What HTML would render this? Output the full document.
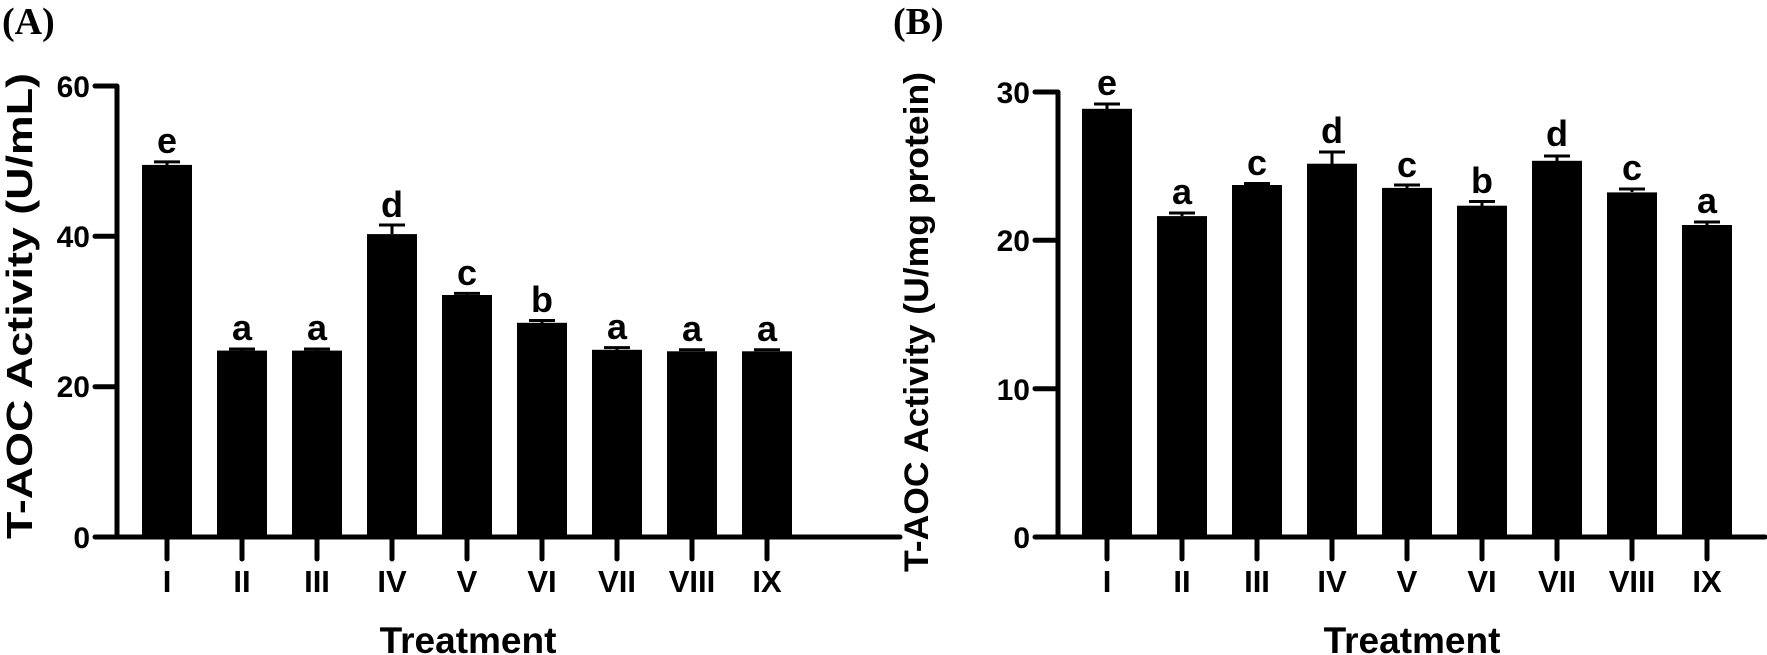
<!DOCTYPE html>
<html><head><meta charset="utf-8"><style>html,body{margin:0;padding:0;background:#fff}svg{display:block}</style></head>
<body>
<svg width="1767" height="655" viewBox="0 0 1767 655" xmlns="http://www.w3.org/2000/svg" font-family="Liberation Sans, Arial, sans-serif" font-weight="bold">
<rect width="1767" height="655" fill="#fff"/>
<text x="2" y="34" font-family="Liberation Serif, serif" font-size="38" font-weight="bold">(A)</text>
<text x="893" y="34" font-family="Liberation Serif, serif" font-size="38" font-weight="bold">(B)</text>

<!-- Panel A -->
<g stroke="#000" stroke-width="5" stroke-linecap="round" fill="none">
<path d="M117 86 V537 M95 86 H117 M95 236.3 H117 M95 386.7 H117 M95 537 H900"/>
<path d="M167 537 V559 M242 537 V559 M317 537 V559 M392 537 V559 M467 537 V559 M542 537 V559 M617 537 V559 M692 537 V559 M767 537 V559"/>
</g>
<g font-size="30" text-anchor="end">
<text x="90" y="97">60</text><text x="90" y="247">40</text><text x="90" y="397">20</text><text x="90" y="548">0</text>
</g>
<g fill="#000">
<rect x="142" y="164.9" width="50" height="372.1"/>
<rect x="217" y="350.6" width="50" height="186.4"/>
<rect x="292" y="350.6" width="50" height="186.4"/>
<rect x="367" y="234.1" width="50" height="302.9"/>
<rect x="442" y="295" width="50" height="242"/>
<rect x="517" y="322.8" width="50" height="214.2"/>
<rect x="592" y="349.8" width="50" height="187.2"/>
<rect x="667" y="351.3" width="50" height="185.7"/>
<rect x="742" y="351.3" width="50" height="185.7"/>
</g>
<g stroke="#000" stroke-width="3" fill="none">
<path d="M167 165 V161.9 M154 161.9 H180"/>
<path d="M242 351 V349 M229 349 H255"/>
<path d="M317 351 V349 M304 349 H330"/>
<path d="M392 234 V225 M379 225 H405"/>
<path d="M467 295 V293.4 M454 293.4 H480"/>
<path d="M542 323 V320.5 M529 320.5 H555"/>
<path d="M617 350 V347.6 M604 347.6 H630"/>
<path d="M692 351 V349.8 M679 349.8 H705"/>
<path d="M767 351 V349.8 M754 349.8 H780"/>
</g>
<g font-size="36" text-anchor="middle">
<text x="167" y="153">e</text><text x="242" y="340">a</text><text x="317" y="340">a</text>
<text x="392" y="217">d</text><text x="467" y="285">c</text><text x="542" y="312">b</text>
<text x="617" y="339">a</text><text x="692" y="341">a</text><text x="767" y="341">a</text>
</g>
<g font-size="31" text-anchor="middle">
<text x="167" y="592">I</text><text x="242" y="592">II</text><text x="317" y="592">III</text><text x="392" y="592">IV</text><text x="467" y="592">V</text><text x="542" y="592">VI</text><text x="617" y="592">VII</text><text x="692" y="592">VIII</text><text x="767" y="592">IX</text>
</g>
<text x="468" y="653" font-size="37" text-anchor="middle">Treatment</text>
<text transform="translate(32,306) rotate(-90)" font-size="36" text-anchor="middle" textLength="466" lengthAdjust="spacingAndGlyphs">T-AOC Activity (U/mL)</text>

<!-- Panel B -->
<g stroke="#000" stroke-width="5" stroke-linecap="round" fill="none">
<path d="M1058 92 V537 M1035 92 H1058 M1035 240.3 H1058 M1035 388.7 H1058 M1035 537 H1765"/>
<path d="M1107 537 V559 M1182 537 V559 M1257 537 V559 M1332 537 V559 M1407 537 V559 M1482 537 V559 M1557 537 V559 M1632 537 V559 M1707 537 V559"/>
</g>
<g font-size="30" text-anchor="end">
<text x="1030" y="103">30</text><text x="1030" y="251">20</text><text x="1030" y="400">10</text><text x="1030" y="548">0</text>
</g>
<g fill="#000">
<rect x="1082" y="108.8" width="50" height="428.2"/>
<rect x="1157" y="216.1" width="50" height="320.9"/>
<rect x="1232" y="185" width="50" height="352"/>
<rect x="1307" y="163.7" width="50" height="373.3"/>
<rect x="1382" y="187.9" width="50" height="349.1"/>
<rect x="1457" y="205.7" width="50" height="331.3"/>
<rect x="1532" y="160.8" width="50" height="376.2"/>
<rect x="1607" y="192.4" width="50" height="344.6"/>
<rect x="1682" y="225" width="50" height="312"/>
</g>
<g stroke="#000" stroke-width="3" fill="none">
<path d="M1107 109 V104 M1094 104 H1120"/>
<path d="M1182 216 V213 M1169 213 H1195"/>
<path d="M1257 185 V183.5 M1244 183.5 H1270"/>
<path d="M1332 164 V152 M1319 152 H1345"/>
<path d="M1407 188 V185 M1394 185 H1420"/>
<path d="M1482 206 V201.5 M1469 201.5 H1495"/>
<path d="M1557 161 V156 M1544 156 H1570"/>
<path d="M1632 192 V189 M1619 189 H1645"/>
<path d="M1707 225 V222 M1694 222 H1720"/>
</g>
<g font-size="36" text-anchor="middle">
<text x="1107" y="95">e</text><text x="1182" y="204">a</text><text x="1257" y="175">c</text>
<text x="1332" y="143">d</text><text x="1407" y="177">c</text><text x="1482" y="193">b</text>
<text x="1557" y="146">d</text><text x="1632" y="180">c</text><text x="1707" y="213">a</text>
</g>
<g font-size="31" text-anchor="middle">
<text x="1107" y="592">I</text><text x="1182" y="592">II</text><text x="1257" y="592">III</text><text x="1332" y="592">IV</text><text x="1407" y="592">V</text><text x="1482" y="592">VI</text><text x="1557" y="592">VII</text><text x="1632" y="592">VIII</text><text x="1707" y="592">IX</text>
</g>
<text x="1412" y="653" font-size="37" text-anchor="middle">Treatment</text>
<text transform="translate(928,322) rotate(-90)" font-size="34" text-anchor="middle" textLength="500" lengthAdjust="spacingAndGlyphs">T-AOC Activity (U/mg protein)</text>
</svg>
</body></html>
